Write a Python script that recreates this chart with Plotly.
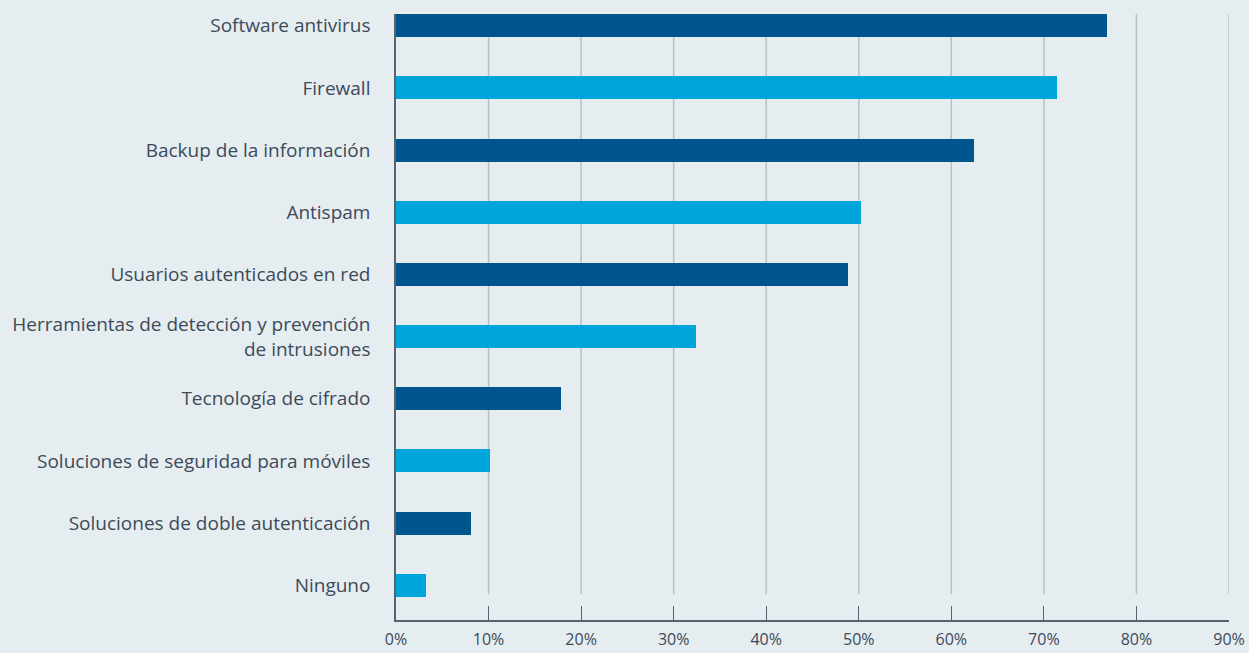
import plotly.graph_objects as go

# categories listed top to bottom as in the chart
categories = [
    "Software antivirus",
    "Firewall",
    "Backup de la información",
    "Antispam",
    "Usuarios autenticados en red",
    "Herramientas de detección y prevención<br>de intrusiones",
    "Tecnología de cifrado",
    "Soluciones de seguridad para móviles",
    "Soluciones de doble autenticación",
    "Ninguno",
]
values = [76.8, 71.4, 62.4, 50.2, 48.8, 32.4, 17.8, 10.2, 8.1, 3.2]
tick_vals = [0, 10, 20, 30, 40, 50, 60, 70, 80, 90]
tick_text = [f"{v}%" for v in tick_vals]

DARK = "#00558c"
LIGHT = "#00a5db"
BG = "#e5edf1"
TEXT = "#3d4a58"
GRID = "#b8c0c5"
AXIS = "#56626e"

colors = [DARK if i % 2 == 0 else LIGHT for i in range(len(categories))]

# plotly draws the first category at the bottom, so reverse
cats = categories[::-1]
vals = values[::-1]
cols = colors[::-1]

fig = go.Figure()
fig.add_trace(go.Bar(
    x=vals,
    y=cats,
    orientation="h",
    marker=dict(color=cols, line=dict(width=0)),
    width=0.37,
    hoverinfo="x+y",
))

# vertical grid lines that stop short of the axis (gap above the tick marks)
for v in tick_vals[1:]:
    fig.add_shape(type="line", xref="x", yref="paper",
                  x0=v, x1=v, y0=0.043, y1=1,
                  line=dict(color=GRID, width=1.5), layer="below")

fig.update_layout(
    width=1249,
    height=653,
    margin=dict(l=396, r=20, t=14, b=33, autoexpand=False),
    paper_bgcolor=BG,
    plot_bgcolor=BG,
    font=dict(family="Open Sans, sans-serif", size=19, color=TEXT),
    showlegend=False,
    bargap=0,
)
fig.update_xaxes(
    range=[0, 90],
    tickvals=tick_vals,
    ticktext=tick_text,
    showgrid=False,
    zeroline=False,
    showline=True,
    linecolor=AXIS,
    linewidth=1.5,
    ticks="inside",
    ticklen=14,
    tickwidth=1.2,
    tickcolor=AXIS,
    tickfont=dict(size=16, color=TEXT),
    ticklabelstandoff=4,
    automargin=False,
)
fig.update_yaxes(
    range=[-0.56, 9.19],
    showgrid=False,
    zeroline=False,
    showline=True,
    linecolor=AXIS,
    linewidth=1.5,
    ticks="",
    ticklabelstandoff=20,
    automargin=False,
)

# remove the default page margin so the figure fills the window
fig.write_html(
    "out.html",
    config={"displayModeBar": False},
    post_script="document.body.style.margin='0';"
                "document.body.style.background='%s';" % BG,
)
